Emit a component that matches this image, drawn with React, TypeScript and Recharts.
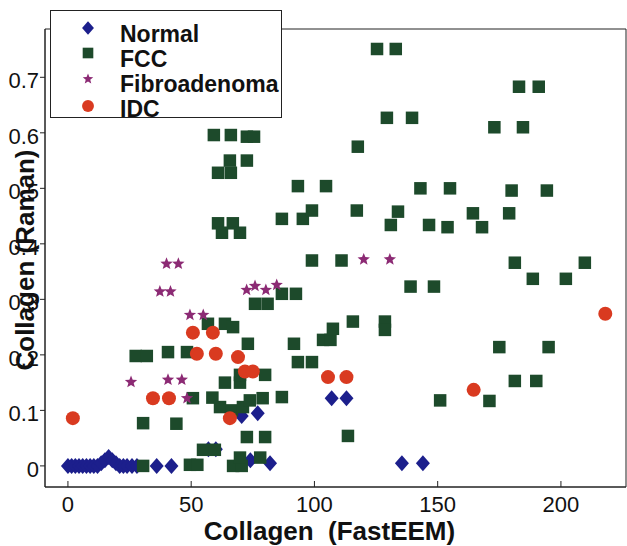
import { ScatterChart, Scatter, XAxis, YAxis, Legend, ReferenceArea, Label } from 'recharts';

const FONT = '"Liberation Sans", Arial, Helvetica, sans-serif';

// axis setup
const xDomain = [-9.3, 226.4];
const yDomain = [-0.038, 0.787];
const xTicks = [0, 50, 100, 150, 200];
const yTicks = [0, 0.1, 0.2, 0.3, 0.4, 0.5, 0.6, 0.7];

const seriesNames = ['Normal', 'FCC', 'Fibroadenoma', 'IDC'];
const seriesColors = ['#1c1f8c', '#1d4a2b', '#8c2a74', '#d93a20'];

// Normal
const normalX = [0, 1.5, 3, 4.5, 6, 7.5, 9, 10.5, 12, 13.5, 15, 16.5, 18, 19.5, 21, 22.5, 24, 26, 28, 36, 42, 57, 60, 70.5, 77, 74, 82, 107, 113, 135.5, 144];
const normalY = [0, 0, 0, 0, 0, 0, 0, 0, 0, 0.005, 0.01, 0.016, 0.01, 0.005, 0, 0, 0, 0, 0, 0, 0, 0.03, 0.03, 0.09, 0.095, 0.01, 0.005, 0.122, 0.122, 0.005, 0.005];

// FCC
const fccX = [27.5, 32, 30.5, 30.5, 40.6, 48.3, 44, 49.5, 52.5, 50.7, 58.6, 54.8, 59.6, 56.8, 63.7, 67,
  59.2, 66.1, 72.6, 75.5, 65.7, 72.6, 60.9, 66.1, 60.9, 66.9, 62.5, 69.8,
  61.7, 66.5, 71, 73.8, 79, 86.8, 63.7, 69.8, 69.8, 80, 72.6, 80, 67, 70.5, 69.8, 78, 73,
  75.9, 81, 86.8, 92.5, 91.7, 93.3, 99, 103.5, 106.5, 107.5, 113.6, 99, 111,
  86.8, 95.3, 99, 93.3, 104.7, 115.6, 128.6, 128.6, 117.6, 117.2,
  125.4, 133, 129.4, 139.6, 143, 155, 133.9, 131, 146.5, 154, 164.3, 168,
  139, 148.5, 151, 171, 180, 194.3, 179, 173, 184.6, 183, 191,
  181.3, 209.7, 188.6, 202, 175, 195, 181.3, 190];
const fccY = [0.198, 0.198, 0.077, 0, 0.205, 0.205, 0.076, 0.002, 0.002, 0.122, 0.123, 0.029, 0.029, 0.256, 0.256, 0.25,
  0.596, 0.596, 0.593, 0.593, 0.55, 0.55, 0.528, 0.528, 0.437, 0.437, 0.42, 0.42,
  0.106, 0.1, 0.106, 0.118, 0.122, 0.124, 0.15, 0.15, 0.164, 0.164, 0.052, 0.052, 0, 0, 0.015, 0.015, 0.22,
  0.292, 0.292, 0.31, 0.31, 0.22, 0.187, 0.187, 0.227, 0.227, 0.247, 0.054, 0.37, 0.37,
  0.445, 0.445, 0.46, 0.504, 0.504, 0.26, 0.26, 0.245, 0.575, 0.46,
  0.751, 0.751, 0.627, 0.627, 0.5, 0.5, 0.458, 0.434, 0.434, 0.43, 0.455, 0.43,
  0.323, 0.323, 0.118, 0.117, 0.496, 0.496, 0.455, 0.61, 0.61, 0.683, 0.683,
  0.366, 0.366, 0.337, 0.337, 0.214, 0.214, 0.153, 0.153];

// Fibroadenoma
const fibroX = [25.6, 37.3, 41.6, 40, 44.8, 40.6, 46.2, 48.3, 49.5, 54.9, 72.5, 75.9, 80.3, 84.7, 120, 130.6];
const fibroY = [0.151, 0.314, 0.314, 0.364, 0.364, 0.155, 0.155, 0.122, 0.272, 0.272, 0.317, 0.324, 0.317, 0.326, 0.372, 0.372];

// IDC
const idcX = [2, 34.5, 41, 50.7, 58.8, 52.3, 60, 69, 71.8, 75, 65.7, 105.5, 113, 164.6, 218];
const idcY = [0.086, 0.122, 0.122, 0.24, 0.24, 0.202, 0.202, 0.196, 0.17, 0.17, 0.086, 0.16, 0.16, 0.137, 0.274];

const toPoints = (xs: number[], ys: number[]) => xs.map((x, i) => ({ x, y: ys[i] }));

const normalData = toPoints(normalX, normalY);
const fccData = toPoints(fccX, fccY);
const fibroData = toPoints(fibroX, fibroY);
const idcData = toPoints(idcX, idcY);

function starPoints(cx: number, cy: number, ro: number, ri: number) {
  const pts: string[] = [];
  for (let i = 0; i < 10; i++) {
    const r = i % 2 === 0 ? ro : ri;
    const a = -Math.PI / 2 + (i * Math.PI) / 5;
    pts.push(`${cx + r * Math.cos(a)},${cy + r * Math.sin(a)}`);
  }
  return pts.join(' ');
}

function Marker({ kind, cx, cy, scale = 1 }: { kind: number; cx: number; cy: number; scale?: number }) {
  const color = seriesColors[kind];
  if (kind === 0) {
    const w = 7 * scale, h = 8 * scale;
    return <polygon points={`${cx},${cy - h} ${cx + w},${cy} ${cx},${cy + h} ${cx - w},${cy}`} fill={color} />;
  }
  if (kind === 1) {
    const s = 12.5 * scale;
    return <rect x={cx - s / 2} y={cy - s / 2} width={s} height={s} fill={color} />;
  }
  if (kind === 2) {
    return <polygon points={starPoints(cx, cy, 6.5 * scale, 2.8 * scale)} fill={color} />;
  }
  return <circle cx={cx} cy={cy} r={7 * scale} fill={color} />;
}

const XTick = (props: any) => {
  const { x, y, payload } = props;
  return (
    <g>
      <line x1={x} x2={x} y1={y} y2={y - 6} stroke="#222" />
      <text x={x} y={y + 25} textAnchor="middle" fontSize={22} fontFamily={FONT} fill="#111">
        {payload.value}
      </text>
    </g>
  );
};

const YTick = (props: any) => {
  const { x, y, payload } = props;
  return (
    <g>
      <line x1={x} x2={x - 5} y1={y} y2={y} stroke="#222" />
      <text x={x - 6} y={y + 11} textAnchor="end" fontSize={22} fontFamily={FONT} fill="#111">
        {payload.value}
      </text>
    </g>
  );
};

const renderLegend = () => (
  <div style={{ width: 232, height: 108, border: '1px solid #222', background: '#fff', boxSizing: 'border-box' }}>
    <svg width={230} height={106} style={{ display: 'block', overflow: 'visible' }}>
      {seriesNames.map((name, i) => (
        <g key={name}>
          <Marker kind={i} cx={37} cy={[17, 42, 68, 95][i]} scale={0.85} />
          <text x={69} y={31 + 25 * i} fontSize={23} fontWeight="bold" fontFamily={FONT} fill="#111">
            {name}
          </text>
        </g>
      ))}
    </svg>
  </div>
);

export default function App() {
  return (
    <div style={{ position: 'absolute', left: 0, top: 0, background: '#fff' }}>
      <ScatterChart width={627} height={546} margin={{ top: 29, right: 1, bottom: 29, left: 0 }}>
        <XAxis
          type="number"
          dataKey="x"
          domain={xDomain}
          ticks={xTicks}
          allowDataOverflow
          interval={0}
          height={30}
          tickLine={false}
          tickSize={0}
          tickMargin={0}
          tick={<XTick />}
          axisLine={{ stroke: '#222' }}
        >
          <Label
            content={(p: any) => {
              const vb = p.viewBox;
              return (
                <text
                  x={vb.x + vb.width / 2 - 6}
                  y={vb.y + 53}
                  textAnchor="middle"
                  fontSize={26}
                  fontWeight="bold"
                  fontFamily={FONT}
                  fill="#111"
                  style={{ whiteSpace: 'pre' }}
                >
                  {'Collagen  (FastEEM)'}
                </text>
              );
            }}
          />
        </XAxis>
        <YAxis
          type="number"
          dataKey="y"
          domain={yDomain}
          ticks={yTicks}
          allowDataOverflow
          interval={0}
          width={45}
          tickLine={false}
          tickSize={0}
          tickMargin={0}
          tick={<YTick />}
          axisLine={{ stroke: '#222' }}
        >
          <Label
            content={(p: any) => {
              const vb = p.viewBox;
              const cy = vb.y + vb.height / 2 + 2;
              return (
                <text
                  x={25}
                  y={cy}
                  transform={`rotate(-90 25 ${cy})`}
                  textAnchor="middle"
                  dominantBaseline="central"
                  fontSize={26}
                  fontWeight="bold"
                  fontFamily={FONT}
                  fill="#111"
                >
                  Collagen (Raman)
                </text>
              );
            }}
          />
        </YAxis>
        <ReferenceArea x1={xDomain[0]} x2={xDomain[1]} y1={yDomain[0]} y2={yDomain[1]} fill="none" stroke="#222" strokeOpacity={1} />
        <Scatter name={seriesNames[0]} data={normalData} isAnimationActive={false} shape={(p: any) => <Marker kind={0} cx={p.cx} cy={p.cy} />} />
        <Scatter name={seriesNames[1]} data={fccData} isAnimationActive={false} shape={(p: any) => <Marker kind={1} cx={p.cx} cy={p.cy} />} />
        <Scatter name={seriesNames[2]} data={fibroData} isAnimationActive={false} shape={(p: any) => <Marker kind={2} cx={p.cx} cy={p.cy} />} />
        <Scatter name={seriesNames[3]} data={idcData} isAnimationActive={false} shape={(p: any) => <Marker kind={3} cx={p.cx} cy={p.cy} />} />
        <Legend
          layout="vertical"
          align="center"
          verticalAlign="middle"
          content={renderLegend}
          wrapperStyle={{ position: 'absolute', top: 10, left: 50, width: 232, height: 108 }}
        />
      </ScatterChart>
    </div>
  );
}
